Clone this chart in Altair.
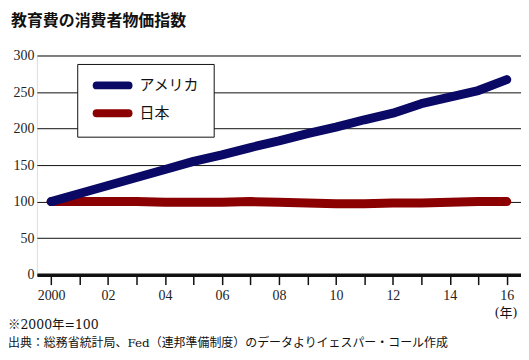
import altair as alt
import pandas as pd

years = list(range(2000, 2017))
usa = [100, 111, 122, 133, 144, 155, 164, 174, 183, 193, 202, 212, 221, 234, 243, 252, 267]
japan = [100, 100, 100, 100, 99, 99, 99, 100, 99, 98, 97, 97, 98, 98, 99, 100, 100]
series = ["アメリカ", "日本"]
colors = ["#0a0a66", "#8b0000"]
y_ticks = [0, 50, 100, 150, 200, 250, 300]

title_text = "教育費の消費者物価指数"
note1 = "※2000年=100"
note2 = "出典：総務省統計局、Fed（連邦準備制度）のデータよりイェスパー・コール作成"
unit = "(年)"

rows = []
for name, vals in (("アメリカ", usa), ("日本", japan)):
    for yr, v in zip(years, vals):
        rows.append({"year": yr, "value": v, "country": name})
df = pd.DataFrame(rows)

SERIF = "Liberation Serif"
MIX = "'DejaVu Serif', 'Noto Sans CJK JP'"
JP = "Noto Sans CJK JP"

x_enc = alt.X(
    "year:Q",
    scale=alt.Scale(domain=[1999.5, 2016.5], nice=False, zero=False),
    axis=alt.Axis(
        values=years,
        labelExpr="datum.value == 2000 ? '2000' : (datum.value % 2 == 0 ? slice(toString(datum.value), 2) : '')",
        title=None, grid=False, domainWidth=3.5, domainColor="#111",
        tickColor="#111", tickSize=10, tickWidth=1.5,
        labelFont=SERIF, labelFontSize=14, labelColor="#222",
        labelPadding=4, labelFlush=False, labelOverlap=False,
    ),
)
y_enc = alt.Y(
    "value:Q",
    scale=alt.Scale(domain=[0, 300], nice=False),
    axis=alt.Axis(
        values=y_ticks, title=None, grid=True, gridColor="#111", gridWidth=1,
        domain=False, ticks=False, labelPadding=3, labelOverlap=False,
        labelFont=SERIF, labelFontSize=14, labelColor="#222",
    ),
)

base = alt.Chart(df)
color_scale = alt.Scale(domain=series, range=colors)
line_jp = base.transform_filter(alt.datum.country == "日本").mark_line(
    strokeWidth=9, strokeCap="round", strokeJoin="round"
).encode(x=x_enc, y=y_enc, color=alt.Color("country:N", scale=color_scale, legend=None))
line_us = base.transform_filter(alt.datum.country == "アメリカ").mark_line(
    strokeWidth=9, strokeCap="round", strokeJoin="round"
).encode(x=x_enc, y=y_enc, color=alt.Color("country:N", scale=color_scale, legend=None))

one = pd.DataFrame({"a": [0]})
deco = []
# legend box
deco.append(alt.Chart(one).mark_rect(fill="white", stroke="#111", strokeWidth=1).encode(
    x=alt.value(41), x2=alt.value(178), y=alt.value(9), y2=alt.value(82)))
for i, (name, col) in enumerate(zip(series, colors)):
    ly = 30 + 28 * i
    deco.append(alt.Chart(one).mark_rule(strokeWidth=8, strokeCap="round", color=col).encode(
        x=alt.value(60), x2=alt.value(92), y=alt.value(ly)))
    deco.append(alt.Chart(one).mark_text(text=name, font=JP, fontSize=15, align="left",
                                         baseline="middle", color="#111").encode(
        x=alt.value(103), y=alt.value(ly)))
deco.append(alt.Chart(one).mark_text(text=title_text, font=JP, fontSize=16, fontWeight="bold",
                                     align="left", baseline="middle", color="#111").encode(
    x=alt.value(-26), y=alt.value(-35)))
deco.append(alt.Chart(one).mark_text(text=unit, font=MIX, fontSize=13, align="center",
                                     baseline="middle", color="#111").encode(
    x=alt.value(471), y=alt.value(259)))
deco.append(alt.Chart(one).mark_text(text=note1, font=MIX, fontSize=12.5, align="left",
                                     baseline="middle", color="#111").encode(
    x=alt.value(-29), y=alt.value(271)))
deco.append(alt.Chart(one).mark_text(text=note2, font=MIX, fontSize=12, align="left",
                                     baseline="middle", color="#111").encode(
    x=alt.value(-29), y=alt.value(289)))

chart = alt.layer(line_jp, line_us, *deco).properties(
    width=486, height=220,
    padding={"left": 29, "top": 47, "right": 0, "bottom": 82},
    autosize=alt.AutoSizeParams(type="none"),
).configure_view(stroke=None).configure(background="white")

chart.save("out.html", embed_options={"renderer": "svg", "actions": False})
